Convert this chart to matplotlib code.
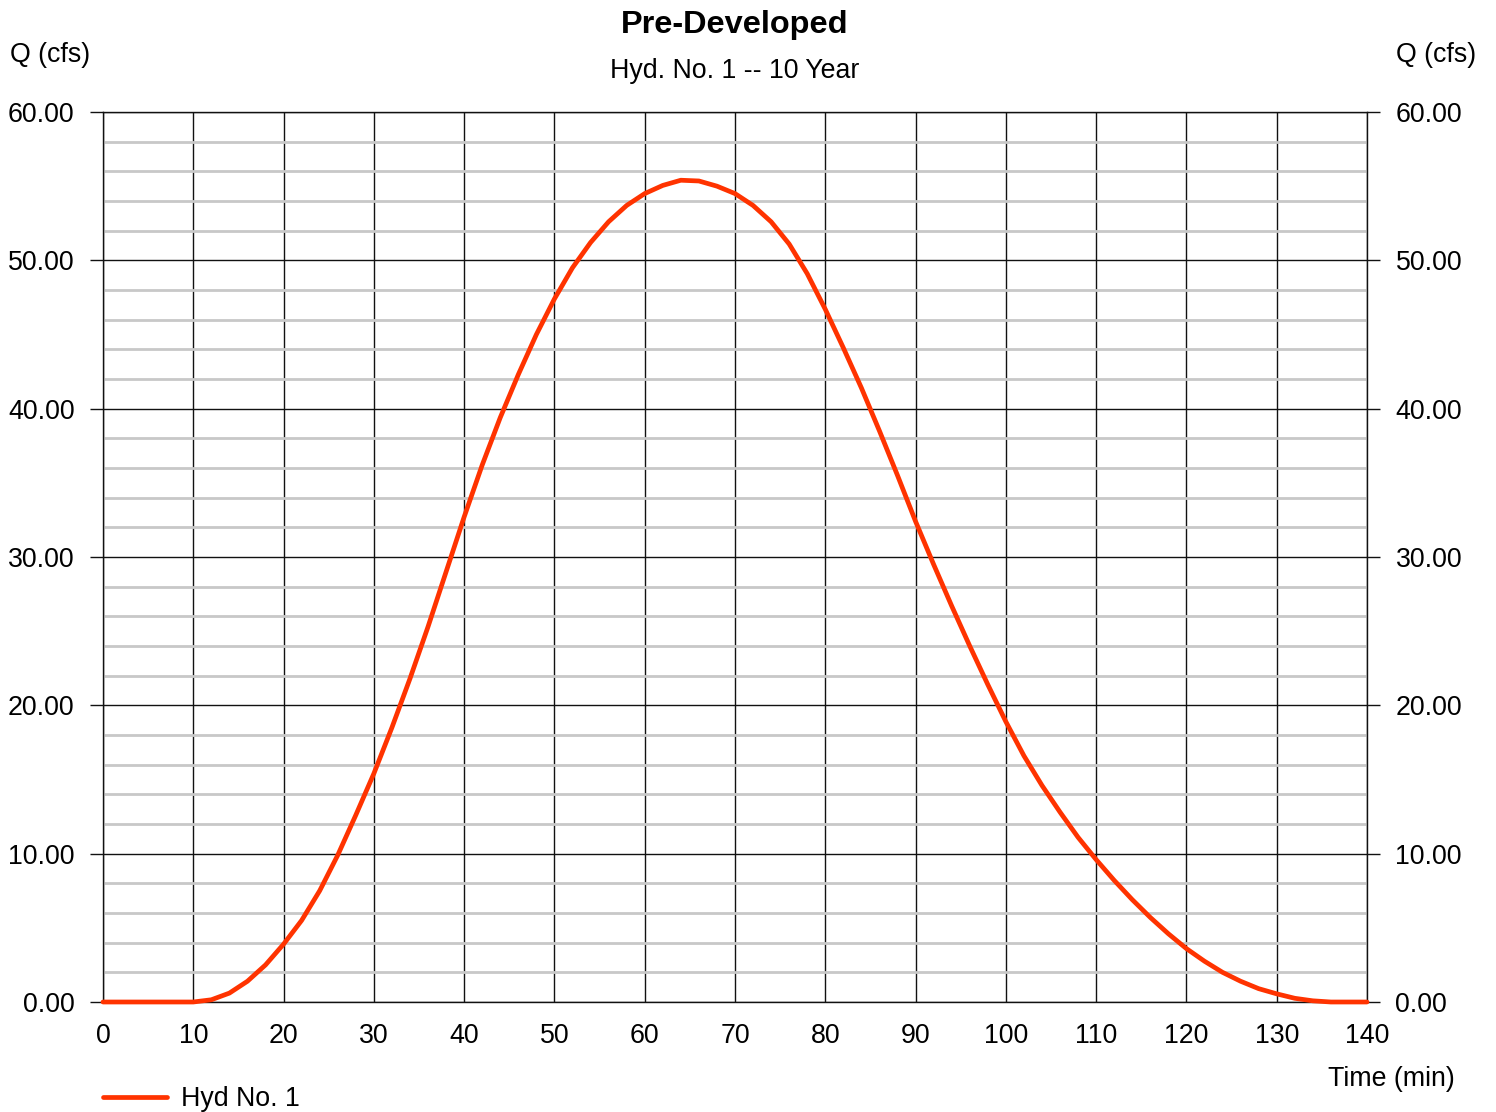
import numpy as np
import matplotlib
matplotlib.use('Agg')
import matplotlib.pyplot as plt
from matplotlib.ticker import MultipleLocator, FormatStrFormatter

plt.rcParams['font.family'] = ['Liberation Sans', 'DejaVu Sans']

# hydrograph, 2 min steps
time_min = [0, 2, 4, 6, 8, 10, 12, 14, 16, 18, 20, 22, 24, 26, 28, 30, 32, 34,
            36, 38, 40, 42, 44, 46, 48, 50, 52, 54, 56, 58, 60, 62, 64, 66, 68,
            70, 72, 74, 76, 78, 80, 82, 84, 86, 88, 90, 92, 94, 96, 98, 100,
            102, 104, 106, 108, 110, 112, 114, 116, 118, 120, 122, 124, 126,
            128, 130, 132, 134, 136, 138, 140]
flow_cfs = [0, 0, 0, 0, 0, 0.0, 0.15, 0.6, 1.4, 2.5, 3.9, 5.5, 7.5, 9.9, 12.6,
            15.4, 18.5, 21.8, 25.3, 29.0, 32.7, 36.2, 39.4, 42.3, 45.0, 47.4,
            49.5, 51.2, 52.6, 53.7, 54.5, 55.05, 55.4, 55.35, 55.0, 54.5, 53.7,
            52.6, 51.1, 49.1, 46.7, 44.1, 41.4, 38.5, 35.5, 32.4, 29.5, 26.7,
            24.0, 21.4, 18.9, 16.6, 14.6, 12.8, 11.1, 9.6, 8.2, 6.9, 5.7, 4.6,
            3.6, 2.75, 2.0, 1.4, 0.9, 0.55, 0.25, 0.08, 0.0, 0, 0]

title = 'Pre-Developed'
subtitle = 'Hyd. No. 1 -- 10 Year'
series_name = 'Hyd No. 1'


def main():
    fs = 19.3
    fig = plt.figure(figsize=(14.96, 11.12), dpi=100)
    ax = fig.add_axes([103 / 1496, 1 - 1002 / 1112, 1264 / 1496, 890 / 1112])

    line, = ax.plot(time_min, flow_cfs, color='#ff3300', lw=3.4,
                    solid_capstyle='round', solid_joinstyle='round',
                    zorder=3, clip_on=False)

    ax.set_xlim(0, 140)
    ax.set_ylim(0, 60)
    ax.xaxis.set_major_locator(MultipleLocator(10))
    ax.yaxis.set_major_locator(MultipleLocator(10))
    ax.yaxis.set_minor_locator(MultipleLocator(2))
    ax.yaxis.set_major_formatter(FormatStrFormatter('%.2f'))

    ax.set_axisbelow(True)
    ax.grid(which='minor', axis='y', color='#c8c8c8', lw=2.0)
    ax.grid(which='major', axis='both', color='#111111', lw=1.0)

    ax.tick_params(axis='y', which='major', direction='out', length=9.5,
                   width=1.0, color='#111111', left=True, right=True,
                   labelleft=True, labelright=True, labelsize=fs, pad=11)
    ax.tick_params(axis='y', which='minor', length=0)
    ax.tick_params(axis='x', which='major', length=0, labelsize=fs, pad=15)
    for s in ax.spines.values():
        s.set_color('#111111')
        s.set_linewidth(1.0)

    fig.text(735 / 1496, 1 - 25 / 1112, title, ha='center', va='center',
             fontsize=23.4, fontweight='bold')
    fig.text(735 / 1496, 1 - 71 / 1112, subtitle, ha='center', va='center',
             fontsize=fs)
    fig.text(10 / 1496, 1 - 55 / 1112, 'Q (cfs)', ha='left', va='center',
             fontsize=fs)
    fig.text(1476 / 1496, 1 - 55 / 1112, 'Q (cfs)', ha='right', va='center',
             fontsize=fs)
    fig.text(1455 / 1496, 1 - 1079 / 1112, 'Time (min)', ha='right',
             va='center', fontsize=fs)

    fig.legend([line], [series_name], loc='center left',
               bbox_to_anchor=(103 / 1496, 1 - 1099 / 1112), frameon=False,
               fontsize=fs, handlelength=2.4, handletextpad=0.52,
               borderaxespad=0, borderpad=0)

    fig.savefig('out.png', dpi=100, facecolor='white')


if __name__ == "__main__":
    main()
